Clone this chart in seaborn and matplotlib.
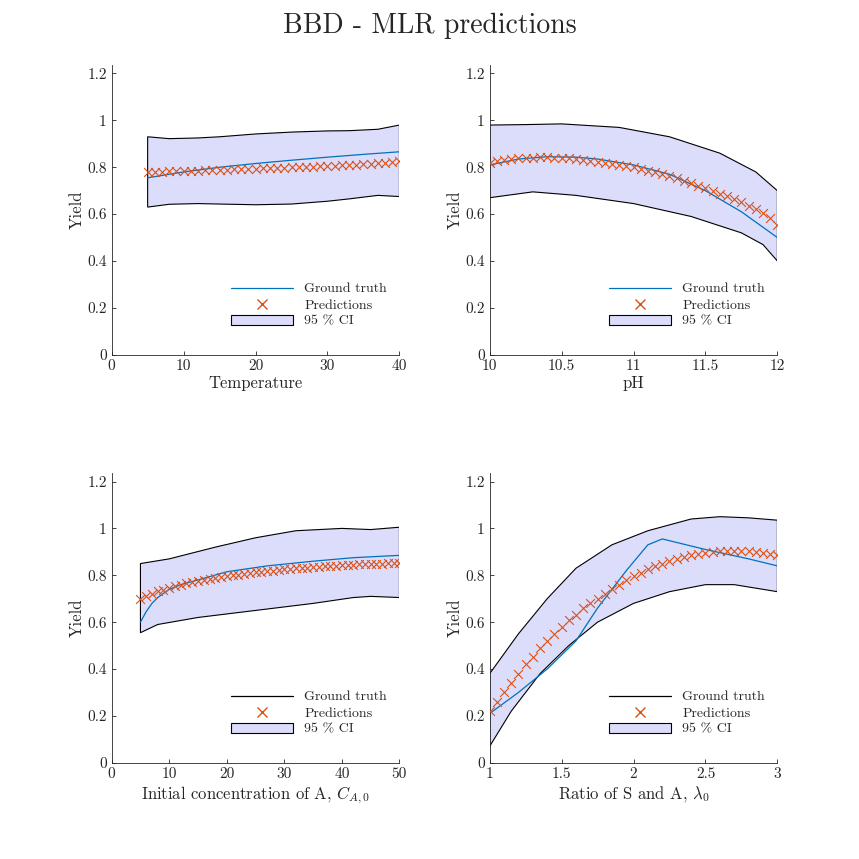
import matplotlib
matplotlib.use("Agg")
import matplotlib.pyplot as plt
import numpy as np
import pandas as pd
import seaborn as sns
from matplotlib.lines import Line2D
from matplotlib.patches import Patch

sns.set_style("ticks")
plt.rcParams["font.family"] = ["cmr10", "DejaVu Serif"]
plt.rcParams["mathtext.fontset"] = "cm"
plt.rcParams["axes.formatter.use_mathtext"] = True

BLUE = "#0072BD"
ORANGE = "#D95319"
FILL = "#DCDCFB"

# Panel 1: Temperature
t_x = list(range(5, 41))
t_pred = [0.780, 0.780, 0.781, 0.782, 0.783, 0.784, 0.785, 0.786, 0.787, 0.788, 0.789, 0.790,
          0.791, 0.792, 0.793, 0.794, 0.795, 0.796, 0.797, 0.798, 0.799, 0.800, 0.801, 0.802,
          0.804, 0.805, 0.806, 0.808, 0.809, 0.811, 0.813, 0.815, 0.817, 0.820, 0.823, 0.826]
t_gx = [5, 10, 15, 20, 25, 30, 35, 40]
t_gt = [0.755, 0.780, 0.800, 0.816, 0.830, 0.843, 0.855, 0.866]
t_ci_x = [5, 8, 12, 15, 20, 25, 30, 33, 37, 40]
t_up = [0.930, 0.922, 0.925, 0.930, 0.942, 0.950, 0.955, 0.956, 0.962, 0.980]
t_lo = [0.630, 0.642, 0.645, 0.643, 0.640, 0.643, 0.655, 0.665, 0.680, 0.675]

# Panel 2: pH
p_x = [10 + 0.05 * i for i in range(41)]
p_pred = [0.820, 0.826, 0.831, 0.835, 0.838, 0.840, 0.841, 0.842, 0.842, 0.841, 0.840, 0.838,
          0.835, 0.832, 0.828, 0.824, 0.819, 0.814, 0.809, 0.804, 0.800, 0.793, 0.786, 0.778,
          0.770, 0.761, 0.752, 0.743, 0.733, 0.722, 0.711, 0.700, 0.688, 0.676, 0.664, 0.651,
          0.636, 0.620, 0.603, 0.585, 0.555]
p_gx = [10, 10.2, 10.4, 10.6, 10.75, 11, 11.25, 11.5, 11.75, 12]
p_gt = [0.810, 0.835, 0.845, 0.843, 0.835, 0.810, 0.770, 0.700, 0.610, 0.500]
p_ci_x = [10, 10.25, 10.5, 10.9, 11.25, 11.6, 11.85, 12]
p_up = [0.980, 0.982, 0.985, 0.970, 0.930, 0.860, 0.780, 0.700]
p_lo_x = [10, 10.3, 10.6, 11, 11.4, 11.75, 11.9, 12]
p_lo = [0.670, 0.695, 0.680, 0.645, 0.590, 0.520, 0.470, 0.400]

# Panel 3: initial concentration
c_x = list(range(5, 51))
c_pred = [0.700, 0.712, 0.722, 0.731, 0.739, 0.746, 0.753, 0.759, 0.765, 0.770, 0.775, 0.780,
          0.784, 0.788, 0.792, 0.796, 0.800, 0.803, 0.806, 0.809, 0.812, 0.815, 0.818, 0.820,
          0.822, 0.825, 0.827, 0.829, 0.831, 0.833, 0.835, 0.836, 0.838, 0.839, 0.841, 0.842,
          0.843, 0.845, 0.846, 0.847, 0.848, 0.849, 0.850, 0.851, 0.852, 0.853]
c_gx = [5, 6, 7, 8, 10, 12, 15, 20, 27, 35, 42, 50]
c_gt = [0.600, 0.645, 0.680, 0.705, 0.740, 0.760, 0.780, 0.815, 0.840, 0.860, 0.875, 0.885]
c_up_x = [5, 10, 18, 25, 32, 40, 45, 50]
c_up = [0.850, 0.870, 0.920, 0.960, 0.990, 1.000, 0.995, 1.005]
c_lo_x = [5, 8, 15, 25, 35, 42, 45, 50]
c_lo = [0.555, 0.590, 0.620, 0.650, 0.680, 0.705, 0.710, 0.705]

# Panel 4: ratio of S and A
r_x = [1 + 0.05 * i for i in range(41)]
r_pred = [0.22, 0.26, 0.30, 0.34, 0.38, 0.42, 0.45, 0.49, 0.52, 0.55, 0.58, 0.61, 0.63, 0.66,
          0.68, 0.70, 0.72, 0.74, 0.76, 0.78, 0.795, 0.81, 0.825, 0.84, 0.85, 0.86, 0.87, 0.878,
          0.885, 0.892, 0.897, 0.900, 0.903, 0.905, 0.905, 0.904, 0.902, 0.899, 0.895, 0.890,
          0.885]
r_gx = [1, 1.2, 1.4, 1.6, 1.75, 1.95, 2.1, 2.2, 2.3, 2.5, 2.8, 3]
r_gt = [0.21, 0.30, 0.40, 0.52, 0.66, 0.82, 0.93, 0.955, 0.94, 0.91, 0.87, 0.84]
r_up_x = [1, 1.2, 1.4, 1.6, 1.85, 2.1, 2.4, 2.6, 2.8, 3]
r_up = [0.38, 0.55, 0.70, 0.83, 0.93, 0.99, 1.04, 1.05, 1.045, 1.035]
r_lo_x = [1, 1.15, 1.35, 1.55, 1.75, 2.0, 2.25, 2.5, 2.7, 3]
r_lo = [0.07, 0.22, 0.38, 0.50, 0.60, 0.68, 0.73, 0.76, 0.76, 0.73]

panels = [
    dict(x=t_x, pred=t_pred, gx=t_gx, gt=t_gt, ux=t_ci_x, up=t_up, lx=t_ci_x, lo=t_lo,
         xlim=(0, 40), xticks=[0, 10, 20, 30, 40], xt=["0", "10", "20", "30", "40"],
         xlabel="Temperature", leg=BLUE),
    dict(x=p_x, pred=p_pred, gx=p_gx, gt=p_gt, ux=p_ci_x, up=p_up, lx=p_lo_x, lo=p_lo,
         xlim=(10, 12), xticks=[10, 10.5, 11, 11.5, 12], xt=["10", "10.5", "11", "11.5", "12"],
         xlabel="pH", leg=BLUE),
    dict(x=c_x, pred=c_pred, gx=c_gx, gt=c_gt, ux=c_up_x, up=c_up, lx=c_lo_x, lo=c_lo,
         xlim=(0, 50), xticks=[0, 10, 20, 30, 40, 50], xt=["0", "10", "20", "30", "40", "50"],
         xlabel=r"Initial concentration of A, $C_{A,0}$", leg="black"),
    dict(x=r_x, pred=r_pred, gx=r_gx, gt=r_gt, ux=r_up_x, up=r_up, lx=r_lo_x, lo=r_lo,
         xlim=(1, 3), xticks=[1, 1.5, 2, 2.5, 3], xt=["1", "1.5", "2", "2.5", "3"],
         xlabel=r"Ratio of S and A, $\lambda_0$", leg="black"),
]

fig = plt.figure(figsize=(8.59, 8.59), dpi=100)
rects = [(0.130, 0.587), (0.570, 0.587), (0.130, 0.112), (0.570, 0.112)]

for (l, b), p in zip(rects, panels):
    ax = fig.add_axes([l, b, 0.335, 0.337])
    # CI band: upper curve then lower reversed
    bx = np.concatenate([p["ux"], p["lx"][::-1]])
    by = np.concatenate([p["up"], p["lo"][::-1]])
    ax.fill(bx, by, facecolor=FILL, edgecolor="black", linewidth=0.8, zorder=1)
    sns.lineplot(x=p["gx"], y=p["gt"], color=BLUE, linewidth=0.9, ax=ax, zorder=2)
    sns.scatterplot(x=p["x"], y=p["pred"], marker="x", color=ORANGE, s=40,
                    linewidth=0.8, ax=ax, zorder=3)
    ax.set_xlim(*p["xlim"])
    ax.set_ylim(0, 1.235)
    ax.set_xticks(p["xticks"])
    ax.set_xticklabels(p["xt"])
    ax.set_yticks([0, 0.2, 0.4, 0.6, 0.8, 1, 1.2])
    ax.set_yticklabels(["0", "0.2", "0.4", "0.6", "0.8", "1", "1.2"])
    ax.tick_params(direction="in", length=3, labelsize=11, width=0.6)
    for s in ["top", "right"]:
        ax.spines[s].set_visible(False)
    for s in ["left", "bottom"]:
        ax.spines[s].set_linewidth(0.6)
    ax.set_xlabel(p["xlabel"], fontsize=12, labelpad=2)
    ax.set_ylabel("Yield", fontsize=12, labelpad=2)
    handles = [
        Line2D([0], [0], color=p["leg"], linewidth=0.9),
        Line2D([0], [0], color=ORANGE, marker="x", linestyle="none", markersize=7),
        Patch(facecolor=FILL, edgecolor="black", linewidth=0.8),
    ]
    ax.legend(handles, ["Ground truth", "Predictions", "95 % CI"], loc="lower right",
              frameon=False, fontsize=10, handlelength=4.5, labelspacing=0.25,
              bbox_to_anchor=(1.0, 0.05))

fig.suptitle("BBD - MLR predictions", fontsize=20, y=0.985)
fig.savefig("out.png", dpi=100)
